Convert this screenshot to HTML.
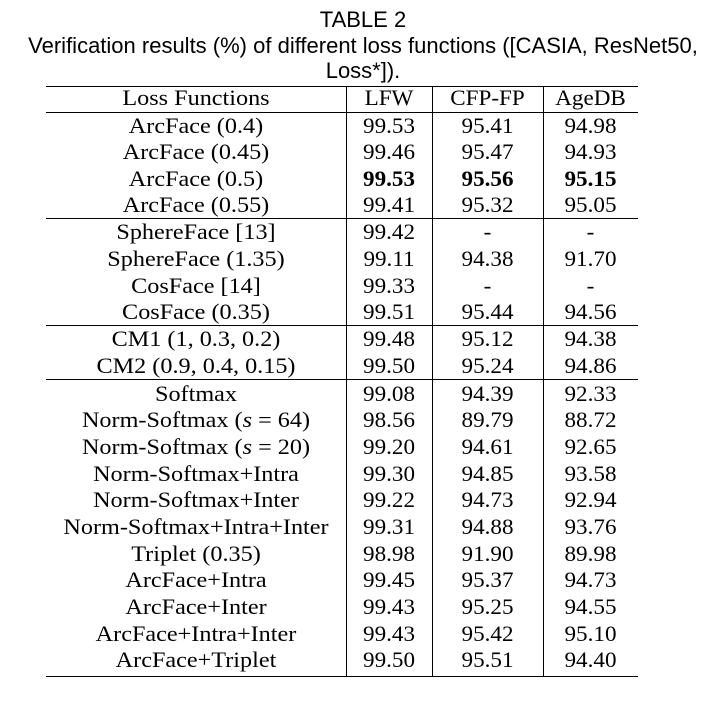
<!DOCTYPE html><html><head><style>
body{margin:0;width:726px;height:704px;background:#fff;position:relative;font-family:"Liberation Serif",serif;color:#000;overflow:hidden}
.t{position:absolute;left:0;width:726px;text-align:center;font-family:"Liberation Sans",sans-serif;font-size:22px;line-height:22px;white-space:nowrap}
.h{position:absolute;left:46px;width:592px;height:0;border-top:1.4px solid #000}
.v{position:absolute;width:0;border-left:1.4px solid #000}
.r{position:absolute;left:46px;width:592px;height:26px;font-size:22px;line-height:26px}
.r span{position:absolute;text-align:center;top:0;white-space:nowrap;transform:scaleX(1.05)}
.r span.a{transform:scaleX(1.1)}
.a{left:0;width:300px}.b{left:300px;width:86px}.c{left:386px;width:111px}.d{left:497px;width:95px}
.bd span{font-weight:bold}.bd .a{font-weight:normal}
</style></head><body>
<div class="t" style="top:9px">TABLE 2</div>
<div class="t" style="top:35px">Verification results (%) of different loss functions ([CASIA, ResNet50,</div>
<div class="t" style="top:60px">Loss*]).</div>
<div class="h" style="top:86px"></div>
<div class="h" style="top:112px"></div>
<div class="h" style="top:218px"></div>
<div class="h" style="top:325px"></div>
<div class="h" style="top:379px"></div>
<div class="h" style="top:676px"></div>
<div class="v" style="left:346px;top:86px;height:590px"></div>
<div class="v" style="left:432px;top:86px;height:590px"></div>
<div class="v" style="left:543px;top:86px;height:590px"></div>
<div class="r" style="top:85px"><span class="a">Loss Functions</span><span class="b">LFW</span><span class="c">CFP-FP</span><span class="d">AgeDB</span></div>
<div class="r" style="top:113px"><span class="a">ArcFace (0.4)</span><span class="b">99.53</span><span class="c">95.41</span><span class="d">94.98</span></div>
<div class="r" style="top:139px"><span class="a">ArcFace (0.45)</span><span class="b">99.46</span><span class="c">95.47</span><span class="d">94.93</span></div>
<div class="r bd" style="top:166px"><span class="a">ArcFace (0.5)</span><span class="b">99.53</span><span class="c">95.56</span><span class="d">95.15</span></div>
<div class="r" style="top:192px"><span class="a">ArcFace (0.55)</span><span class="b">99.41</span><span class="c">95.32</span><span class="d">95.05</span></div>
<div class="r" style="top:219px"><span class="a">SphereFace [13]</span><span class="b">99.42</span><span class="c">-</span><span class="d">-</span></div>
<div class="r" style="top:246px"><span class="a">SphereFace (1.35)</span><span class="b">99.11</span><span class="c">94.38</span><span class="d">91.70</span></div>
<div class="r" style="top:273px"><span class="a">CosFace [14]</span><span class="b">99.33</span><span class="c">-</span><span class="d">-</span></div>
<div class="r" style="top:299px"><span class="a">CosFace (0.35)</span><span class="b">99.51</span><span class="c">95.44</span><span class="d">94.56</span></div>
<div class="r" style="top:326px"><span class="a">CM1 (1, 0.3, 0.2)</span><span class="b">99.48</span><span class="c">95.12</span><span class="d">94.38</span></div>
<div class="r" style="top:353px"><span class="a">CM2 (0.9, 0.4, 0.15)</span><span class="b">99.50</span><span class="c">95.24</span><span class="d">94.86</span></div>
<div class="r" style="top:381px"><span class="a">Softmax</span><span class="b">99.08</span><span class="c">94.39</span><span class="d">92.33</span></div>
<div class="r" style="top:407px"><span class="a">Norm-Softmax (<i>s</i> = 64)</span><span class="b">98.56</span><span class="c">89.79</span><span class="d">88.72</span></div>
<div class="r" style="top:434px"><span class="a">Norm-Softmax (<i>s</i> = 20)</span><span class="b">99.20</span><span class="c">94.61</span><span class="d">92.65</span></div>
<div class="r" style="top:461px"><span class="a">Norm-Softmax+Intra</span><span class="b">99.30</span><span class="c">94.85</span><span class="d">93.58</span></div>
<div class="r" style="top:487px"><span class="a">Norm-Softmax+Inter</span><span class="b">99.22</span><span class="c">94.73</span><span class="d">92.94</span></div>
<div class="r" style="top:514px"><span class="a">Norm-Softmax+Intra+Inter</span><span class="b">99.31</span><span class="c">94.88</span><span class="d">93.76</span></div>
<div class="r" style="top:541px"><span class="a">Triplet (0.35)</span><span class="b">98.98</span><span class="c">91.90</span><span class="d">89.98</span></div>
<div class="r" style="top:567px"><span class="a">ArcFace+Intra</span><span class="b">99.45</span><span class="c">95.37</span><span class="d">94.73</span></div>
<div class="r" style="top:594px"><span class="a">ArcFace+Inter</span><span class="b">99.43</span><span class="c">95.25</span><span class="d">94.55</span></div>
<div class="r" style="top:621px"><span class="a">ArcFace+Intra+Inter</span><span class="b">99.43</span><span class="c">95.42</span><span class="d">95.10</span></div>
<div class="r" style="top:647px"><span class="a">ArcFace+Triplet</span><span class="b">99.50</span><span class="c">95.51</span><span class="d">94.40</span></div>
</body></html>
